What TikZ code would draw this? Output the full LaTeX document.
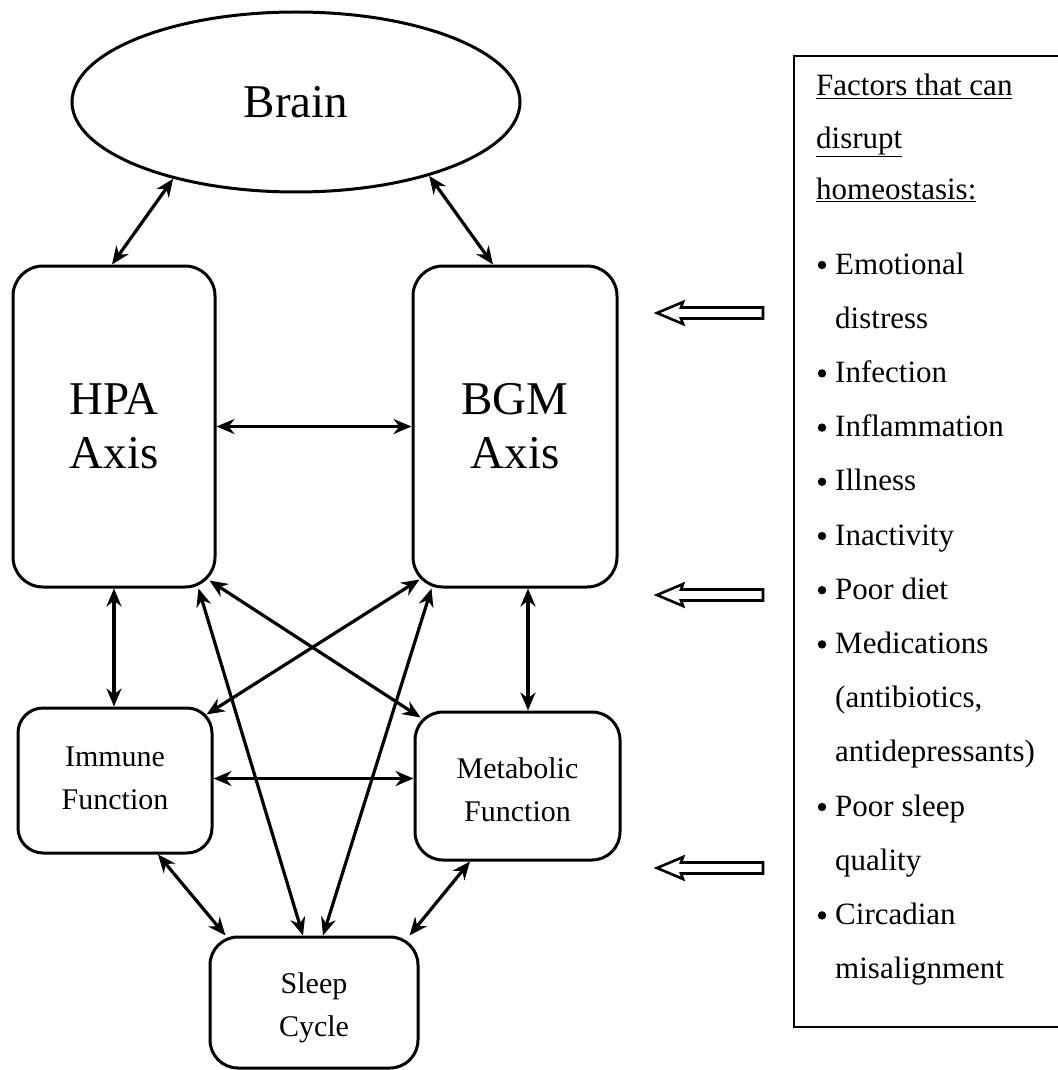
\documentclass[tikz,border=0pt]{standalone}
\usepackage{fontspec}
\setmainfont{Liberation Serif}
\usetikzlibrary{arrows.meta,shapes.geometric,calc}
\begin{document}
\begin{tikzpicture}[x=1pt,y=-1pt,
  box/.style={draw, line width=3pt, inner sep=0pt, align=center},
  conn/.style={line width=3.2pt, {Stealth[length=18pt,width=15pt]}-{Stealth[length=18pt,width=15pt]}},
  bigtxt/.style={font=\fontsize{47}{54}\selectfont},
  smalltxt/.style={font=\fontsize{30}{43}\selectfont, align=center},
  listtxt/.style={anchor=base west, inner sep=0pt, font=\fontsize{31}{36}\selectfont},
  hollow/.style={draw, line width=2.6pt, fill=white}
]
\useasboundingbox (0,0) rectangle (1057,1070);

% main nodes
\node[box, ellipse, minimum width=448pt, minimum height=180pt, bigtxt] (brain) at (296,102) {Brain};
\node[box, rounded corners=30pt, minimum width=202pt, minimum height=321pt, bigtxt] (hpa) at (114,426.5) {HPA\\Axis};
\node[box, rounded corners=30pt, minimum width=204pt, minimum height=321pt, bigtxt] (bgm) at (515,426.5) {BGM\\Axis};
\node[box, rounded corners=25pt, minimum width=194pt, minimum height=145pt] (immune) at (115,780.5) {};
\node[box, rounded corners=28pt, minimum width=205pt, minimum height=148pt] (metab) at (517.5,786) {};
\node[box, rounded corners=28pt, minimum width=208pt, minimum height=131pt] (sleep) at (314,1002.5) {};
\node[smalltxt] (immunetxt) at ($(immune.center)+(0,-2)$) {Immune\\Function};
\node[smalltxt] (metabtxt) at ($(metab.center)+(0,4)$) {Metabolic\\Function};
\node[smalltxt] (sleeptxt) at ($(sleep.center)+(0,5)$) {Sleep\\Cycle};

% connectors
\draw[conn] (brain.212) -- ([xshift=-2pt]hpa.north);
\draw[conn] (brain.331) -- ([xshift=-22pt]bgm.north);
\draw[conn] (hpa.east) -- (bgm.west);
\draw[conn] (hpa.south) -- (hpa.south |- immune.north);
\draw[conn] ([xshift=13pt]bgm.south) -- ([xshift=13pt]bgm.south |- metab.north);
\draw[conn] ($(immune.east)+(0,-2)$) -- ($(metab.west |- immune.east)+(0,-2)$);
\draw[conn] ($(hpa.south east)+(-7,-8)$) -- ($(metab.north west)+(7,7)$);
\draw[conn] ($(bgm.south west)+(8,-9)$) -- ($(immune.north east)+(-7,8)$);
\draw[conn] ([xshift=-18pt]hpa.south east) -- ([xshift=-11pt]sleep.north);
\draw[conn] ([xshift=20pt]bgm.south west) -- ([xshift=9pt]sleep.north);
\draw[conn] ([xshift=43pt]immune.south) -- ([xshift=17pt]sleep.north west);
\draw[conn] ([xshift=-47.5pt]metab.south) -- ([xshift=-10pt]sleep.north east);

% hollow arrows
\foreach \yy in {313,595,868}{
  \draw[hollow, line join=miter] (657,\yy) -- (683,\yy-11) -- (681,\yy-5.5) -- (763,\yy-5.5) -- (763,\yy+5.5) -- (681,\yy+5.5) -- (683,\yy+11) -- cycle;
}

% factors box
\draw[line width=2.8pt] (794,56) rectangle (1090,1027);
\node[listtxt] (h1) at (816,96) {\underline{Factors that can}};
\node[listtxt] (h2) at (816,148) {\underline{disrupt}};
\node[listtxt] (h3) at (816,199) {\underline{homeostasis:}};
\foreach \i/\t/\b in {0/{Emotional}/1,1/{distress}/0,2/{Infection}/1,3/{Inflammation}/1,4/{Illness}/1,5/{Inactivity}/1,6/{Poor diet}/1,7/{Medications}/1,8/{(antibiotics,}/0,9/{antidepressants)}/0,10/{Poor sleep}/1,11/{quality}/0,12/{Circadian}/1,13/{misalignment}/0}{
  \node[listtxt] (t\i) at (835,274+54.2*\i) {\t};
  \ifnum\b=1
    \fill (822,274+54.2*\i-9) circle (4.2pt);
  \fi
}
\end{tikzpicture}
\end{document}
